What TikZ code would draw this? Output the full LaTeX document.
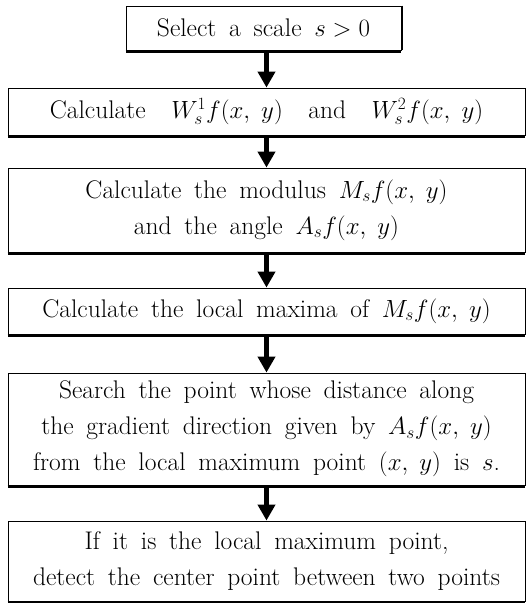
\documentclass[tikz,border=0pt]{standalone}
\usetikzlibrary{arrows.meta}
\newcommand\boxfont{\fontsize{25.5}{36}\selectfont\spaceskip 0.5em plus 0.1em\relax}
\tikzset{
  box/.style={draw, line width=0.9pt, inner sep=0pt, align=center, font=\boxfont},
  widebox/.style={box, minimum width=517pt},
  flow/.style={line width=4.5pt, -{Triangle[width=17pt,length=16pt]}},
  shade/.style={line width=3pt},
}
\begin{document}
\begin{tikzpicture}[x=1pt,y=1pt]
\useasboundingbox (0,0) rectangle (526,-603);
\node[box, minimum width=275pt, minimum height=44pt] (b1) at (263.5,-28) {Select a scale $s>0$};
\node[widebox, minimum height=47pt] (b2) at (266.5,-111.5) {Calculate \ $W_s^1f(x,\;y)$ \ and \ $W_s^2f(x,\;y)$};
\node[widebox, minimum height=84pt] (b3) at (266.5,-210) {Calculate the modulus $M_sf(x,\;y)$\\ and the angle $A_sf(x,\;y)$};
\node[widebox, minimum height=46pt] (b4) at (266.5,-311) {Calculate the local maxima of $M_sf(x,\;y)$};
\node[widebox, minimum height=112pt] (b5) at (266.5,-429) {Search the point whose distance along\\ the gradient direction given by $A_sf(x,\;y)$\\ from the local maximum point $(x,\;y)$ is $s$.};
\node[widebox, minimum height=80pt] (b6) at (266.5,-561) {If it is the local maximum point,\\ detect the center point between two points};
\foreach \b in {b1,b2,b3,b4,b5,b6}
  \draw[shade] ([yshift=-1pt]\b.south west) -- ([yshift=-1pt]\b.south east);
\draw[line width=1.8pt] ([xshift=0.5pt]b1.north east) -- ([xshift=0.5pt]b1.south east);
\draw[flow] (b1.south -| b2.north) -- (b2.north);
\draw[flow] (b2.south) -- (b3.north);
\draw[flow] (b3.south) -- (b4.north);
\draw[flow] (b4.south) -- (b5.north);
\draw[flow] (b5.south) -- (b6.north);
\end{tikzpicture}
\end{document}
